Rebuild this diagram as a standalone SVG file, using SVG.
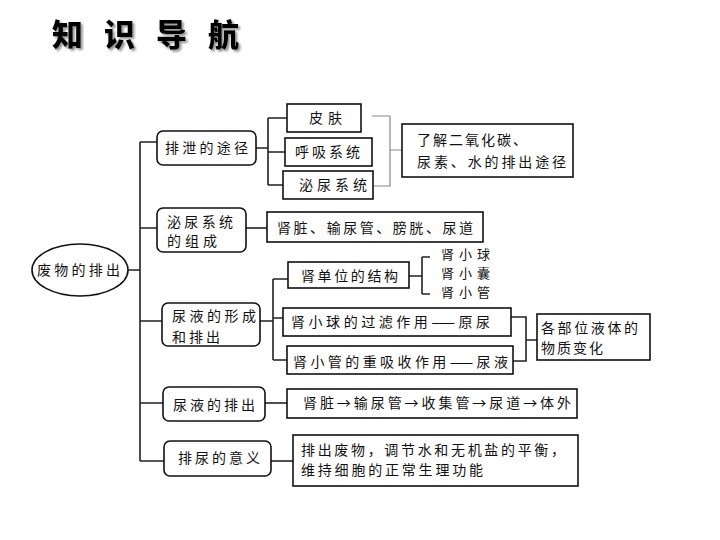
<svg xmlns="http://www.w3.org/2000/svg" width="720" height="540" viewBox="0 0 720 540">
<style>
.t{font-family:"Noto Sans CJK SC","Noto Sans CJK JP",sans-serif;font-size:14px;fill:#111}
.s{font-size:13px}
.b{fill:#fff;stroke:#111;stroke-width:1.6}
.c{fill:none;stroke:#222;stroke-width:1.6}
.g{fill:none;stroke:#888;stroke-width:1.2}
.ti{font-family:"Noto Sans CJK SC",sans-serif;font-size:31px;font-weight:900;fill:#000}
</style>
<defs>
<filter id="sh" x="-10%" y="-30%" width="130%" height="160%">
<feDropShadow dx="2" dy="2" stdDeviation="0.8" flood-color="#888" flood-opacity="0.9"/>
</filter>
</defs>
<rect width="720" height="540" fill="#fff"/>
<g id="title" filter="url(#sh)">
<text class="ti" x="52" y="46" letter-spacing="21">知识导航</text>
</g>
<g id="connectors">
<path class="c" d="M127 270H140M140 142V461M140 142H157M140 228H157M140 321H162M140 403H163M140 461H164"/>
<path class="c" d="M256 148H268M268 118V185M268 118H287M268 152H285M268 185H283"/>
<path class="g" d="M372 116H390V186H373M390 150H402"/>
<path class="c" d="M246 228H267"/>
<path class="c" d="M260 321H273M273 279V360M273 279H288M273 318H283M273 360H287"/>
<path class="c" d="M409 276H422M422 257V294M422 257H430M422 294H430"/>
<path class="c" d="M511 317H526V361H513M526 340H537"/>
<path class="c" d="M265 403H287"/>
<path class="c" d="M271 461H293"/>
</g>
<g id="n0"><ellipse class="b" cx="80" cy="270" rx="48" ry="26"/><text class="t" x="37" y="275" textLength="83" lengthAdjust="spacing">废物的排出</text></g>
<g id="n1"><rect class="b" x="157" y="131" width="99" height="34" rx="6"/><text class="t" x="165" y="153" textLength="83" lengthAdjust="spacing">排泄的途径</text></g>
<g id="n2"><rect class="b" x="157" y="208" width="89" height="44" rx="6"/><text class="t" x="167" y="227" textLength="66" lengthAdjust="spacing">泌尿系统</text><text class="t" x="167" y="246" textLength="50" lengthAdjust="spacing">的组成</text></g>
<g id="n3"><rect class="b" x="162" y="303" width="98" height="43" rx="6"/><text class="t" x="172" y="321" textLength="84" lengthAdjust="spacing">尿液的形成</text><text class="t" x="172" y="342" textLength="48" lengthAdjust="spacing">和排出</text></g>
<g id="n4"><rect class="b" x="163" y="387" width="102" height="34" rx="6"/><text class="t" x="173" y="410" textLength="82" lengthAdjust="spacing">尿液的排出</text></g>
<g id="n5"><rect class="b" x="164" y="441" width="107" height="35" rx="6"/><text class="t" x="178" y="463" textLength="82" lengthAdjust="spacing">排尿的意义</text></g>
<g id="n6"><rect class="b" x="287" y="104" width="74" height="28"/><text class="t" x="309" y="123" textLength="33" lengthAdjust="spacing">皮肤</text></g>
<g id="n7"><rect class="b" x="285" y="138" width="87" height="28"/><text class="t" x="295" y="157" textLength="65" lengthAdjust="spacing">呼吸系统</text></g>
<g id="n8"><rect class="b" x="283" y="171" width="90" height="28"/><text class="t" x="299" y="190" textLength="68" lengthAdjust="spacing">泌尿系统</text></g>
<g id="n9"><rect class="b" x="402" y="124" width="171" height="53"/><text class="t" x="417" y="145" textLength="110" lengthAdjust="spacing">了解二氧化碳、</text><text class="t" x="417" y="167" textLength="149" lengthAdjust="spacing">尿素、水的排出途径</text></g>
<g id="n10"><rect class="b" x="267" y="212" width="216" height="30"/><text class="t" x="277" y="233" textLength="196" lengthAdjust="spacing">肾脏、输尿管、膀胱、尿道</text></g>
<g id="n11"><rect class="b" x="288" y="262" width="121" height="26"/><text class="t" x="301" y="281" textLength="97" lengthAdjust="spacing">肾单位的结构</text></g>
<g id="n12"><text class="t s" x="441" y="259" textLength="49" lengthAdjust="spacing">肾小球</text><text class="t s" x="441" y="278" textLength="49" lengthAdjust="spacing">肾小囊</text><text class="t s" x="441" y="297" textLength="49" lengthAdjust="spacing">肾小管</text></g>
<g id="n13"><rect class="b" x="283" y="308" width="228" height="28"/><text class="t" x="291" y="327" textLength="199" lengthAdjust="spacing">肾小球的过滤作用——原尿</text></g>
<g id="n14"><rect class="b" x="287" y="346" width="226" height="28"/><text class="t" x="293" y="367" textLength="215" lengthAdjust="spacing">肾小管的重吸收作用——尿液</text></g>
<g id="n15"><rect class="b" x="537" y="314" width="113" height="46"/><text class="t" x="541" y="333" textLength="97" lengthAdjust="spacing">各部位液体的</text><text class="t" x="541" y="353" textLength="62" lengthAdjust="spacing">物质变化</text></g>
<g id="n16"><rect class="b" x="287" y="389" width="290" height="29"/><text class="t" x="303" y="408" textLength="268" lengthAdjust="spacing">肾脏→输尿管→收集管→尿道→体外</text></g>
<g id="n17"><rect class="b" x="293" y="435" width="285" height="51"/><text class="t" x="301" y="455" textLength="264" lengthAdjust="spacing">排出废物，调节水和无机盐的平衡，</text><text class="t" x="301" y="475" textLength="182" lengthAdjust="spacing">维持细胞的正常生理功能</text></g>
</svg>
